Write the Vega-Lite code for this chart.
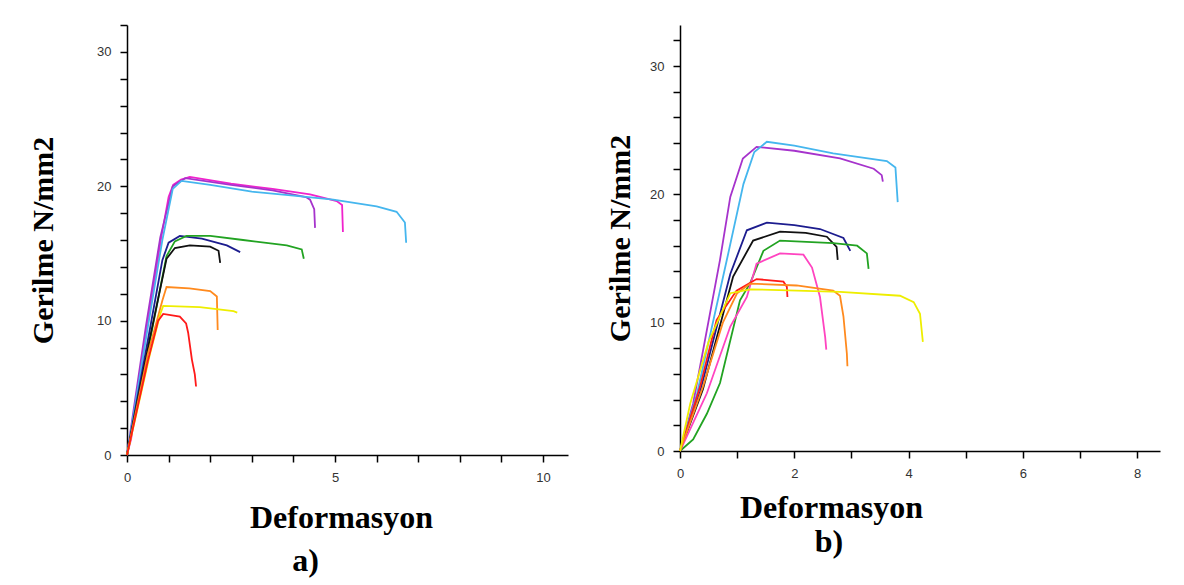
{
  "$schema": "https://vega.github.io/schema/vega-lite/v6.json",
  "background": "white",
  "padding": {"left": 28, "top": 24, "right": 4, "bottom": 4},
  "spacing": 37,
  "config": {
    "view": {"stroke": null},
    "axis": {
      "grid": false,
      "domainColor": "#000",
      "domainWidth": 1.5,
      "tickColor": "#000",
      "tickWidth": 1.5,
      "tickSize": 7,
      "labelFont": "Liberation Sans",
      "labelFontSize": 13,
      "labelColor": "#333",
      "labelPadding": 9,
      "labelFlush": false,
      "titleFont": "Liberation Serif",
      "titleFontWeight": "bold",
      "titleColor": "#000"
    },
    "title": {"font": "Liberation Serif", "fontWeight": "bold", "fontSize": 32, "color": "#000"}
  },
  "datasets": {
    "a": [
      {"s":"magenta","i":0,"x":0,"y":0},{"s":"magenta","i":1,"x":0.1,"y":1.2},{"s":"magenta","i":2,"x":0.47,"y":9.3},{"s":"magenta","i":3,"x":0.83,"y":16.3},{"s":"magenta","i":4,"x":1.0,"y":19.2},{"s":"magenta","i":5,"x":1.11,"y":20.1},{"s":"magenta","i":6,"x":1.3,"y":20.5},{"s":"magenta","i":7,"x":1.51,"y":20.7},{"s":"magenta","i":8,"x":2.5,"y":20.2},{"s":"magenta","i":9,"x":3.5,"y":19.8},{"s":"magenta","i":10,"x":4.4,"y":19.4},{"s":"magenta","i":11,"x":5.04,"y":18.9},{"s":"magenta","i":12,"x":5.17,"y":18.6},{"s":"magenta","i":13,"x":5.19,"y":16.6},
      {"s":"purple","i":0,"x":0,"y":0},{"s":"purple","i":1,"x":0.45,"y":9.5},{"s":"purple","i":2,"x":0.8,"y":16.2},{"s":"purple","i":3,"x":1.1,"y":20.0},{"s":"purple","i":4,"x":1.4,"y":20.6},{"s":"purple","i":5,"x":2.5,"y":20.1},{"s":"purple","i":6,"x":3.5,"y":19.7},{"s":"purple","i":7,"x":4.3,"y":19.2},{"s":"purple","i":8,"x":4.4,"y":19.0},{"s":"purple","i":9,"x":4.5,"y":18.3},{"s":"purple","i":10,"x":4.52,"y":16.9},
      {"s":"blue","i":0,"x":0,"y":0},{"s":"blue","i":1,"x":0.5,"y":9.5},{"s":"blue","i":2,"x":0.85,"y":16.0},{"s":"blue","i":3,"x":1.1,"y":19.8},{"s":"blue","i":4,"x":1.31,"y":20.4},{"s":"blue","i":5,"x":2.0,"y":20.1},{"s":"blue","i":6,"x":3.0,"y":19.6},{"s":"blue","i":7,"x":4.0,"y":19.3},{"s":"blue","i":8,"x":4.96,"y":19.0},{"s":"blue","i":9,"x":6.0,"y":18.5},{"s":"blue","i":10,"x":6.48,"y":18.1},{"s":"blue","i":11,"x":6.68,"y":17.3},{"s":"blue","i":12,"x":6.71,"y":15.8},
      {"s":"navy","i":0,"x":0,"y":0},{"s":"navy","i":1,"x":0.5,"y":8.5},{"s":"navy","i":2,"x":0.85,"y":14.5},{"s":"navy","i":3,"x":1.0,"y":15.8},{"s":"navy","i":4,"x":1.27,"y":16.3},{"s":"navy","i":5,"x":1.8,"y":16.1},{"s":"navy","i":6,"x":2.4,"y":15.6},{"s":"navy","i":7,"x":2.72,"y":15.1},
      {"s":"green","i":0,"x":0,"y":0},{"s":"green","i":1,"x":0.55,"y":8.5},{"s":"green","i":2,"x":0.95,"y":14.8},{"s":"green","i":3,"x":1.15,"y":15.9},{"s":"green","i":4,"x":1.43,"y":16.3},{"s":"green","i":5,"x":2.0,"y":16.3},{"s":"green","i":6,"x":2.79,"y":16.0},{"s":"green","i":7,"x":3.84,"y":15.6},{"s":"green","i":8,"x":4.2,"y":15.3},{"s":"green","i":9,"x":4.25,"y":14.6},
      {"s":"black","i":0,"x":0,"y":0},{"s":"black","i":1,"x":0.55,"y":8.7},{"s":"black","i":2,"x":0.95,"y":14.6},{"s":"black","i":3,"x":1.15,"y":15.4},{"s":"black","i":4,"x":1.51,"y":15.6},{"s":"black","i":5,"x":2.0,"y":15.5},{"s":"black","i":6,"x":2.2,"y":15.2},{"s":"black","i":7,"x":2.24,"y":14.3},
      {"s":"orange","i":0,"x":0,"y":0},{"s":"orange","i":1,"x":0.5,"y":7.5},{"s":"orange","i":2,"x":0.85,"y":11.5},{"s":"orange","i":3,"x":0.95,"y":12.5},{"s":"orange","i":4,"x":1.5,"y":12.4},{"s":"orange","i":5,"x":2.0,"y":12.2},{"s":"orange","i":6,"x":2.16,"y":11.8},{"s":"orange","i":7,"x":2.18,"y":9.3},
      {"s":"yellow","i":0,"x":0,"y":0},{"s":"yellow","i":1,"x":0.55,"y":7.5},{"s":"yellow","i":2,"x":0.8,"y":10.5},{"s":"yellow","i":3,"x":0.87,"y":11.1},{"s":"yellow","i":4,"x":1.75,"y":11.0},{"s":"yellow","i":5,"x":2.56,"y":10.7},{"s":"yellow","i":6,"x":2.65,"y":10.6},
      {"s":"red","i":0,"x":0,"y":0},{"s":"red","i":1,"x":0.5,"y":7.0},{"s":"red","i":2,"x":0.75,"y":10.0},{"s":"red","i":3,"x":0.87,"y":10.5},{"s":"red","i":4,"x":1.27,"y":10.3},{"s":"red","i":5,"x":1.42,"y":9.8},{"s":"red","i":6,"x":1.47,"y":9.1},{"s":"red","i":7,"x":1.56,"y":7.1},{"s":"red","i":8,"x":1.63,"y":6.0},{"s":"red","i":9,"x":1.66,"y":5.1}
    ],
    "b": [
      {"s":"purple","i":0,"x":0,"y":0},{"s":"purple","i":1,"x":0.23,"y":3.7},{"s":"purple","i":2,"x":0.7,"y":14.9},{"s":"purple","i":3,"x":0.88,"y":19.8},{"s":"purple","i":4,"x":1.1,"y":22.8},{"s":"purple","i":5,"x":1.34,"y":23.7},{"s":"purple","i":6,"x":2.0,"y":23.4},{"s":"purple","i":7,"x":2.8,"y":22.8},{"s":"purple","i":8,"x":3.39,"y":22.0},{"s":"purple","i":9,"x":3.53,"y":21.5},{"s":"purple","i":10,"x":3.55,"y":21.0},
      {"s":"blue","i":0,"x":0,"y":0},{"s":"blue","i":1,"x":0.3,"y":4.5},{"s":"blue","i":2,"x":0.82,"y":14.9},{"s":"blue","i":3,"x":1.11,"y":20.8},{"s":"blue","i":4,"x":1.3,"y":23.3},{"s":"blue","i":5,"x":1.52,"y":24.1},{"s":"blue","i":6,"x":2.0,"y":23.8},{"s":"blue","i":7,"x":2.68,"y":23.2},{"s":"blue","i":8,"x":3.62,"y":22.6},{"s":"blue","i":9,"x":3.77,"y":22.1},{"s":"blue","i":10,"x":3.81,"y":19.4},
      {"s":"navy","i":0,"x":0,"y":0},{"s":"navy","i":1,"x":0.35,"y":4.6},{"s":"navy","i":2,"x":0.88,"y":13.8},{"s":"navy","i":3,"x":1.17,"y":17.2},{"s":"navy","i":4,"x":1.52,"y":17.8},{"s":"navy","i":5,"x":2.0,"y":17.6},{"s":"navy","i":6,"x":2.45,"y":17.3},{"s":"navy","i":7,"x":2.86,"y":16.6},{"s":"navy","i":8,"x":2.98,"y":15.6},
      {"s":"black","i":0,"x":0,"y":0},{"s":"black","i":1,"x":0.4,"y":4.8},{"s":"black","i":2,"x":0.93,"y":13.6},{"s":"black","i":3,"x":1.28,"y":16.4},{"s":"black","i":4,"x":1.75,"y":17.1},{"s":"black","i":5,"x":2.2,"y":17.0},{"s":"black","i":6,"x":2.57,"y":16.7},{"s":"black","i":7,"x":2.74,"y":15.9},{"s":"black","i":8,"x":2.76,"y":14.9},
      {"s":"green","i":0,"x":0,"y":0},{"s":"green","i":1,"x":0.23,"y":0.9},{"s":"green","i":2,"x":0.47,"y":2.9},{"s":"green","i":3,"x":0.7,"y":5.3},{"s":"green","i":4,"x":1.05,"y":11.75},{"s":"green","i":5,"x":1.23,"y":13.1},{"s":"green","i":6,"x":1.46,"y":15.6},{"s":"green","i":7,"x":1.75,"y":16.4},{"s":"green","i":8,"x":2.68,"y":16.2},{"s":"green","i":9,"x":3.1,"y":16.0},{"s":"green","i":10,"x":3.27,"y":15.4},{"s":"green","i":11,"x":3.3,"y":14.2},
      {"s":"pink","i":0,"x":0,"y":0},{"s":"pink","i":1,"x":0.47,"y":4.5},{"s":"pink","i":2,"x":0.88,"y":9.7},{"s":"pink","i":3,"x":1.17,"y":12.0},{"s":"pink","i":4,"x":1.34,"y":14.6},{"s":"pink","i":5,"x":1.75,"y":15.4},{"s":"pink","i":6,"x":2.16,"y":15.3},{"s":"pink","i":7,"x":2.31,"y":14.3},{"s":"pink","i":8,"x":2.45,"y":12.0},{"s":"pink","i":9,"x":2.54,"y":8.9},{"s":"pink","i":10,"x":2.56,"y":7.9},
      {"s":"red","i":0,"x":0,"y":0},{"s":"red","i":1,"x":0.35,"y":5.0},{"s":"red","i":2,"x":0.64,"y":10.2},{"s":"red","i":3,"x":0.99,"y":12.5},{"s":"red","i":4,"x":1.34,"y":13.4},{"s":"red","i":5,"x":1.81,"y":13.2},{"s":"red","i":6,"x":1.87,"y":12.8},{"s":"red","i":7,"x":1.88,"y":12.0},
      {"s":"orange","i":0,"x":0,"y":0},{"s":"orange","i":1,"x":0.4,"y":5.0},{"s":"orange","i":2,"x":0.75,"y":10.0},{"s":"orange","i":3,"x":1.0,"y":12.3},{"s":"orange","i":4,"x":1.23,"y":13.05},{"s":"orange","i":5,"x":2.04,"y":12.9},{"s":"orange","i":6,"x":2.68,"y":12.5},{"s":"orange","i":7,"x":2.8,"y":12.1},{"s":"orange","i":8,"x":2.86,"y":10.5},{"s":"orange","i":9,"x":2.92,"y":7.6},{"s":"orange","i":10,"x":2.93,"y":6.6},
      {"s":"yellow","i":0,"x":0,"y":0},{"s":"yellow","i":1,"x":0.18,"y":3.7},{"s":"yellow","i":2,"x":0.5,"y":8.5},{"s":"yellow","i":3,"x":0.88,"y":12.3},{"s":"yellow","i":4,"x":1.23,"y":12.6},{"s":"yellow","i":5,"x":2.8,"y":12.4},{"s":"yellow","i":6,"x":3.85,"y":12.1},{"s":"yellow","i":7,"x":4.09,"y":11.6},{"s":"yellow","i":8,"x":4.2,"y":10.7},{"s":"yellow","i":9,"x":4.25,"y":8.5}
    ]
  },
  "hconcat": [
    {
      "width": 441,
      "height": 430,
      "data": {"name": "a"},
      "title": {"text": "a)", "orient": "bottom", "dx": -42, "offset": 13},
      "mark": {"type": "line", "strokeWidth": 1.8},
      "encoding": {
        "x": {
          "field": "x", "type": "quantitative",
          "scale": {"domain": [0, 10.6], "nice": false, "zero": false},
          "axis": {"title": "Deformasyon", "titleFontSize": 32, "titlePadding": 18, "titleX": 214,
                   "values": [0,1,2,3,4,5,6,7,8,9,10],
                   "labelExpr": "datum.value % 5 == 0 ? datum.label : ''"}
        },
        "y": {
          "field": "y", "type": "quantitative",
          "scale": {"domain": [0, 32], "nice": false, "zero": false},
          "axis": {"title": "Gerilme N/mm2", "titleFontSize": 30, "titlePadding": 38,
                   "values": [0,2,4,6,8,10,12,14,16,18,20,22,24,26,28,30,32],
                   "labelExpr": "datum.value % 10 == 0 ? datum.label : ''"}
        },
        "color": {
          "field": "s", "type": "nominal", "legend": null,
          "scale": {"domain": ["blue","magenta","purple","navy","green","black","orange","yellow","red","pink"],
                    "range": ["#45b6ee","#f022cc","#a633cc","#1c1c8e","#22a322","#111111","#ff8a1e","#eeee00","#ff1a1a","#ff44c0"]}
        },
        "order": {"field": "i", "type": "quantitative"}
      }
    },
    {
      "width": 480,
      "height": 426,
      "data": {"name": "b"},
      "title": {"text": "b)", "orient": "bottom", "dx": -91, "offset": 4},
      "mark": {"type": "line", "strokeWidth": 1.8},
      "encoding": {
        "x": {
          "field": "x", "type": "quantitative",
          "scale": {"domain": [0, 8.4], "nice": false, "zero": false},
          "axis": {"title": "Deformasyon", "titleFontSize": 32, "titlePadding": 12, "titleX": 151,
                   "values": [0,1,2,3,4,5,6,7,8],
                   "labelExpr": "datum.value % 2 == 0 ? datum.label : ''"}
        },
        "y": {
          "field": "y", "type": "quantitative",
          "scale": {"domain": [0, 33.2], "nice": false, "zero": false},
          "axis": {"title": "Gerilme N/mm2", "titleFontSize": 30, "titlePadding": 14,
                   "values": [0,2,4,6,8,10,12,14,16,18,20,22,24,26,28,30,32],
                   "labelExpr": "datum.value % 10 == 0 ? datum.label : ''"}
        },
        "color": {
          "field": "s", "type": "nominal", "legend": null,
          "scale": {"domain": ["blue","magenta","purple","navy","green","black","orange","yellow","red","pink"],
                    "range": ["#45b6ee","#f022cc","#a633cc","#1c1c8e","#22a322","#111111","#ff8a1e","#eeee00","#ff1a1a","#ff44c0"]}
        },
        "order": {"field": "i", "type": "quantitative"}
      }
    }
  ]
}
